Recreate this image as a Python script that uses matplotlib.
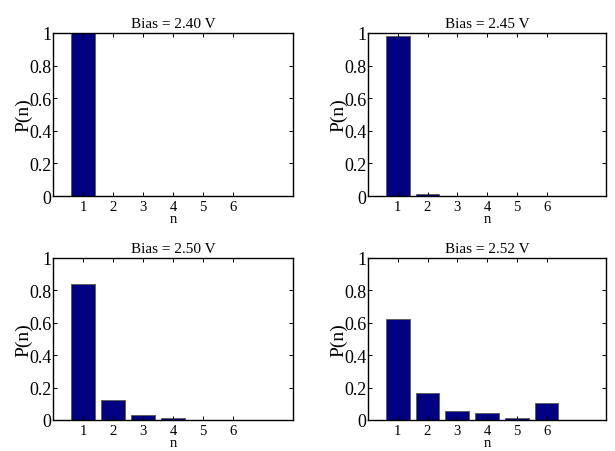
import numpy as np
import matplotlib
matplotlib.use('Agg')
import matplotlib.pyplot as plt

plt.rcParams['font.family'] = ['Liberation Serif', 'DejaVu Serif']

n = [1, 2, 3, 4, 5, 6]
biases = ['2.40', '2.45', '2.50', '2.52']
p_240 = [1.0, 0.002, 0.0, 0.0, 0.0, 0.0]
p_245 = [0.982, 0.014, 0.001, 0.0, 0.0, 0.0]
p_250 = [0.839, 0.124, 0.029, 0.012, 0.003, 0.002]
p_252 = [0.625, 0.165, 0.055, 0.045, 0.012, 0.103]
probs = [p_240, p_245, p_250, p_252]

fig = plt.figure(figsize=(6.15, 4.52), dpi=100)
W, H = 615, 452
boxes = [(53, 34, 293, 197), (368, 34, 606, 197),
         (53, 259, 293, 421), (368, 259, 606, 421)]

for (x0, y0, x1, y1), b, p in zip(boxes, biases, probs):
    ax = fig.add_axes([x0 / W, 1 - y1 / H, (x1 - x0) / W, (y1 - y0) / H])
    ax.bar(n, p, width=0.8, color='#000080', edgecolor='#606060', linewidth=0.7)
    ax.set_xlim(0, 8)
    ax.set_ylim(0, 1)
    ax.set_xticks(n)
    ax.set_yticks([0, 0.2, 0.4, 0.6, 0.8, 1])
    ax.set_yticklabels(['0', '0.2', '0.4', '0.6', '0.8', '1'])
    ax.tick_params(direction='in', top=True, right=True, length=3, width=0.7)
    ax.tick_params(axis='x', labelsize=10.5, pad=3)
    ax.tick_params(axis='y', labelsize=13, pad=1)
    for s in ax.spines.values():
        s.set_linewidth(1.0)
    ax.set_title('Bias = %s V' % b, fontsize=11, pad=4)
    ax.set_xlabel('n', fontsize=10.5, labelpad=-1)
    ax.set_ylabel('P(n)', fontsize=14, labelpad=-2)

fig.savefig('out.png', dpi=100)
